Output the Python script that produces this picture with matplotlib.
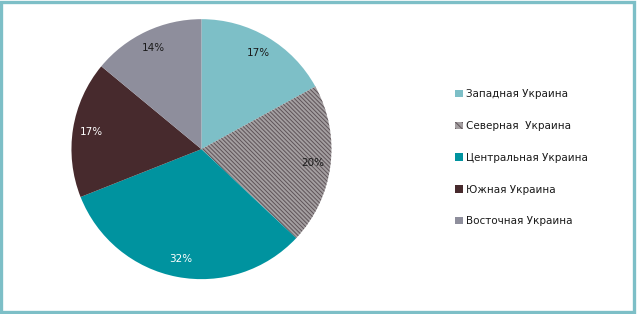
import matplotlib
matplotlib.use("Agg")
import matplotlib.pyplot as plt
from matplotlib.patches import Rectangle, Patch

categories = ["Западная Украина", "Северная  Украина", "Центральная Украина",
              "Южная Украина", "Восточная Украина"]
values = [17, 20, 32, 17, 14]
colors = ["#7DBFC7", "#A49FA1", "#00939F", "#472A2D", "#8E8E9C"]
label_colors = ["#1a1a1a", "#1a1a1a", "white", "white", "#1a1a1a"]

plt.rcParams['font.family'] = ['DejaVu Sans']
plt.rcParams['hatch.linewidth'] = 0.7

fig = plt.figure(figsize=(6.38, 3.14), dpi=100)
ax = fig.add_axes([0.112, 0.111, 0.4075, 0.828])

wedges, texts, autotexts = ax.pie(
    values, colors=colors, startangle=90, counterclock=False,
    autopct=lambda p: f"{p:.0f}%", pctdistance=0.86,
    wedgeprops=dict(linewidth=0))
ax.set_xlim(-1, 1)
ax.set_ylim(-1, 1)
ax.set_aspect('equal')

# hatched slice
wedges[1].set_hatch('\\' * 8)
wedges[1].set_edgecolor('#5E5358')
wedges[1].set_linewidth(0)

for t, c in zip(autotexts, label_colors):
    t.set_color(c)
    t.set_fontsize(7.5)

handles = []
for i, (cat, col) in enumerate(zip(categories, colors)):
    if i == 1:
        h = Patch(facecolor=col, edgecolor='#5E5358', hatch='\\' * 5, linewidth=0)
    else:
        h = Patch(facecolor=col, edgecolor='none')
    handles.append(h)

leg = fig.legend(handles, categories, loc='upper left',
                 bbox_to_anchor=(0.707, 0.730), frameon=False,
                 fontsize=7.5, handlelength=0.7, handleheight=0.7,
                 handletextpad=0.35, labelspacing=2.1, borderaxespad=0)
for t in leg.get_texts():
    t.set_color('#1a1a1a')

# border
fig.patches.append(Rectangle((0.002, 0.005), 0.992, 0.989, transform=fig.transFigure,
                             fill=False, edgecolor='#7DBFC7', linewidth=2.4))

fig.savefig("out.png", dpi=100)
